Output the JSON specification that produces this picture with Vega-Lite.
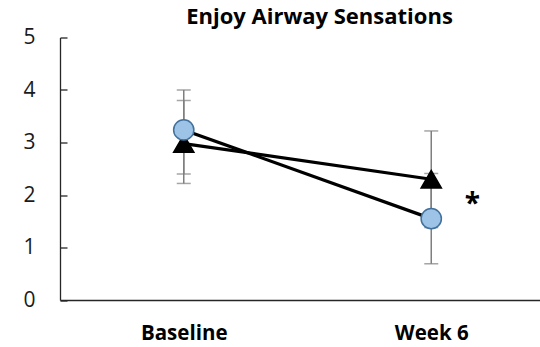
{
  "$schema": "https://vega.github.io/schema/vega-lite/v6.json",
  "autosize": "none",
  "width": 495,
  "height": 262.5,
  "padding": {"left": 60, "top": 37.5, "right": 0, "bottom": 47},
  "background": "white",
  "config": {
    "view": {"stroke": null},
    "font": "Open Sans"
  },
  "title": {
    "text": "Enjoy Airway Sensations",
    "font": "Open Sans",
    "fontSize": 22,
    "fontWeight": "bold",
    "color": "#000000",
    "anchor": "middle",
    "dx": 12,
    "offset": -2
  },
  "datasets": {
    "scores": [
      {"time": "Baseline", "group": "Group B", "mean": 2.98, "lo": 2.22, "hi": 3.8},
      {"time": "Week 6", "group": "Group B", "mean": 2.3, "lo": 1.38, "hi": 3.22},
      {"time": "Baseline", "group": "Group A", "mean": 3.24, "lo": 2.4, "hi": 4.0},
      {"time": "Week 6", "group": "Group A", "mean": 1.55, "lo": 0.69, "hi": 2.41}
    ],
    "marks": [
      {"time": "Week 6", "y": 1.66, "label": "*"}
    ]
  },
  "data": {"name": "scores"},
  "encoding": {
    "x": {
      "field": "time",
      "type": "nominal",
      "sort": ["Baseline", "Week 6"],
      "scale": {"type": "point", "padding": 0.5},
      "axis": {
        "title": null,
        "labelAngle": 0,
        "labelFont": "Open Sans",
        "labelFontSize": 20.5,
        "labelFontWeight": "bold",
        "labelColor": "#000000",
        "labelPadding": 23,
        "ticks": false,
        "domainColor": "#262626",
        "domainWidth": 1.3,
        "grid": false
      }
    }
  },
  "layer": [
    {
      "mark": {"type": "rule", "color": "#7f7f7f", "strokeWidth": 1.5},
      "encoding": {
        "y": {
          "field": "lo",
          "type": "quantitative",
          "scale": {"domain": [0, 5], "nice": false},
          "axis": {
            "title": null,
            "values": [0, 1, 2, 3, 4, 5],
            "grid": false,
            "labelFont": "Open Sans",
            "labelFontSize": 21,
            "labelColor": "#1a1a1a",
            "labelPadding": 32,
            "tickSize": -7,
            "tickColor": "#262626",
            "tickWidth": 1.3,
            "domainColor": "#262626",
            "domainWidth": 1.3
          }
        },
        "y2": {"field": "hi"}
      }
    },
    {
      "mark": {"type": "tick", "color": "#7f7f7f", "size": 14, "thickness": 1.5},
      "encoding": {"y": {"field": "lo", "type": "quantitative"}}
    },
    {
      "mark": {"type": "tick", "color": "#7f7f7f", "size": 14, "thickness": 1.5},
      "encoding": {"y": {"field": "hi", "type": "quantitative"}}
    },
    {
      "mark": {"type": "line", "color": "#000000", "strokeWidth": 3.2},
      "encoding": {
        "y": {"field": "mean", "type": "quantitative"},
        "detail": {"field": "group"}
      }
    },
    {
      "mark": {"type": "point", "filled": true, "opacity": 1, "size": 410, "strokeWidth": 1.5},
      "encoding": {
        "y": {"field": "mean", "type": "quantitative"},
        "shape": {
          "field": "group",
          "type": "nominal",
          "scale": {"domain": ["Group A", "Group B"], "range": ["circle", "triangle-up"]},
          "legend": null
        },
        "fill": {
          "field": "group",
          "type": "nominal",
          "scale": {"domain": ["Group A", "Group B"], "range": ["#9DC3E6", "#000000"]},
          "legend": null
        },
        "stroke": {
          "field": "group",
          "type": "nominal",
          "scale": {"domain": ["Group A", "Group B"], "range": ["#41719C", "#000000"]},
          "legend": null
        }
      }
    },
    {
      "data": {"name": "marks"},
      "mark": {"type": "text", "font": "Open Sans", "fontSize": 28, "fontWeight": "bold", "color": "#000000", "dx": 41, "baseline": "alphabetic", "align": "center"},
      "encoding": {
        "y": {"field": "y", "type": "quantitative"},
        "text": {"field": "label"}
      }
    }
  ]
}
